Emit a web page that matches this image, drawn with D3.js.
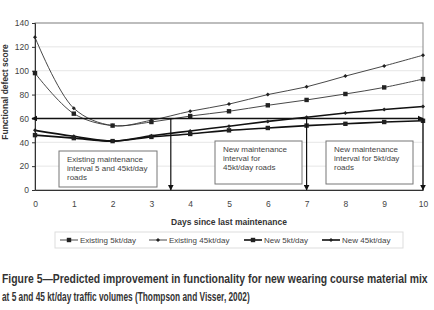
<!DOCTYPE html>
<html>
<head>
<meta charset="utf-8">
<script src="https://cdn.jsdelivr.net/npm/d3@7"></script>
<style>
  body { margin: 0; background: #fff; }
  svg { display: block; font-family: 'Liberation Sans', Arial, sans-serif; }
</style>
</head>
<body>
<div id="chart"></div>
<script>
// data
let days = [0, 1, 2, 3, 4, 5, 6, 7, 8, 9, 10]
let existing5 = [98, 64, 54, 57, 62, 66, 71, 75.5, 80.5, 86, 93]
let existing45 = [128, 68.5, 54, 58.5, 66, 72, 80, 86.5, 95.5, 104, 113]
let new5 = [46, 43.5, 41, 44.5, 47, 50, 52, 54, 55.5, 57, 58]
let new45 = [50, 45, 41, 45.5, 49.5, 53.5, 57.5, 61, 64.5, 67.5, 70]
let yTicks = [0, 20, 40, 60, 80, 100, 120, 140]
let threshold = 60
let intervals = [3.5, 7, 10]

let series = [
  { name: 'Existing 5kt/day', values: existing5, marker: 'square', thick: false },
  { name: 'Existing 45kt/day', values: existing45, marker: 'plus', thick: false },
  { name: 'New 5kt/day', values: new5, marker: 'square', thick: true },
  { name: 'New 45kt/day', values: new45, marker: 'plus', thick: true }
]

let boxes = [
  { x0: 59, y0: 151, w: 98, h: 36, lines: ['Existing maintenance', 'interval 5 and 45kt/day', 'roads'] },
  { x0: 215, y0: 141, w: 87, h: 43, lines: ['New maintenance', 'interval for', '45kt/day roads'] },
  { x0: 326, y0: 141, w: 87, h: 43, lines: ['New maintenance', 'interval for 5kt/day', 'roads'] }
]

let margin = { top: 23, left: 35, right: 11, bottom: 120 }
let width = 434
let height = 310

let svg = d3
  .select('#chart')
  .append('svg')
  .attr('width', width)
  .attr('height', height)

let xScale = d3.scaleLinear().domain([0, 10]).range([margin.left, width - margin.right])
let yScale = d3.scaleLinear().domain([0, 140]).range([height - margin.bottom, margin.top])

let ink = '#333'

// gridlines
svg
  .append('g')
  .selectAll('line')
  .data(yTicks.slice(1))
  .enter()
  .append('line')
  .attr('x1', xScale(0))
  .attr('x2', xScale(10))
  .attr('y1', d => yScale(d))
  .attr('y2', d => yScale(d))
  .attr('stroke', '#e6e6e6')
  .attr('stroke-width', 1)

// plot frame
svg
  .append('rect')
  .attr('x', xScale(0))
  .attr('y', yScale(140))
  .attr('width', xScale(10) - xScale(0))
  .attr('height', yScale(0) - yScale(140))
  .attr('fill', 'none')
  .attr('stroke', '#888')

// text boxes
let boxG = svg.append('g')
boxes.forEach(b => {
  boxG
    .append('rect')
    .attr('x', b.x0)
    .attr('y', b.y0)
    .attr('width', b.w)
    .attr('height', b.h)
    .attr('fill', '#fff')
    .attr('stroke', '#777')
  b.lines.forEach((t, i) => {
    boxG
      .append('text')
      .attr('x', b.x0 + 8)
      .attr('y', b.y0 + 11 + i * 9)
      .attr('font-size', 8)
      .attr('fill', '#444')
      .text(t)
  })
})

// axes
let yAxis = d3.axisLeft(yScale).tickValues(yTicks).tickSize(3).tickPadding(3)
let yG = svg.append('g').attr('transform', `translate(${xScale(0)},0)`).call(yAxis)
yG.select('.domain').attr('stroke', ink)
yG.selectAll('.tick line').attr('stroke', ink)
yG.selectAll('text').attr('font-size', 8.5).attr('fill', '#444').attr('font-family', 'Liberation Sans, Arial')

let xAxis = d3.axisBottom(xScale).tickValues(days).tickSize(0).tickPadding(11)
let xG = svg.append('g').attr('transform', `translate(0,${yScale(0)})`).call(xAxis)
xG.select('.domain').attr('stroke', ink)
xG.selectAll('text').attr('font-size', 8.5).attr('fill', '#444').attr('font-family', 'Liberation Sans, Arial')

// axis titles
svg
  .append('text')
  .attr('x', 229)
  .attr('y', 225)
  .attr('text-anchor', 'middle')
  .attr('font-size', 8.5)
  .attr('font-weight', 'bold')
  .attr('fill', ink)
  .text('Days since last maintenance')

svg
  .append('text')
  .attr('transform', 'translate(8,92) rotate(-90)')
  .attr('text-anchor', 'middle')
  .attr('font-size', 8.5)
  .attr('font-weight', 'bold')
  .attr('fill', ink)
  .text('Functional defect score')

// series lines
let line = d3
  .line()
  .x((d, i) => xScale(days[i]))
  .y(d => yScale(d))
  .curve(d3.curveCatmullRom)

let seriesG = svg
  .append('g')
  .selectAll('.series')
  .data(series)
  .enter()
  .append('g')
  .attr('class', 'series')

seriesG
  .append('path')
  .attr('d', d => line(d.values))
  .attr('fill', 'none')
  .attr('stroke', d => (d.thick ? '#111' : '#333'))
  .attr('stroke-width', d => (d.thick ? 1.6 : 0.9))

function drawMarker(g, type, cx, cy) {
  if (type === 'square') {
    g.append('rect')
      .attr('x', cx - 2.2)
      .attr('y', cy - 2.2)
      .attr('width', 4.4)
      .attr('height', 4.4)
      .attr('fill', '#222')
  } else {
    g.append('path')
      .attr('d', `M${cx - 2},${cy}L${cx},${cy - 2}L${cx + 2},${cy}L${cx},${cy + 2}Z`)
      .attr('fill', '#222')
  }
}

seriesG.each(function (d) {
  let g = d3.select(this)
  d.values.forEach((v, i) => drawMarker(g, d.marker, xScale(days[i]), yScale(v)))
})

// annotation arrows
let defs = svg.append('defs')
defs
  .append('marker')
  .attr('id', 'arrow')
  .attr('viewBox', '0 0 10 10')
  .attr('refX', 9)
  .attr('refY', 5)
  .attr('markerWidth', 6)
  .attr('markerHeight', 6)
  .attr('markerUnits', 'userSpaceOnUse')
  .attr('orient', 'auto-start-reverse')
  .append('path')
  .attr('d', 'M0,0L10,5L0,10Z')
  .attr('fill', '#111')

let arrowG = svg.append('g')
arrowG
  .append('line')
  .attr('x1', xScale(0) - 3)
  .attr('x2', xScale(10))
  .attr('y1', yScale(threshold))
  .attr('y2', yScale(threshold))
  .attr('stroke', '#111')
  .attr('stroke-width', 1.6)
  .attr('marker-start', 'url(#arrow)')
  .attr('marker-end', 'url(#arrow)')

arrowG
  .selectAll('.vert')
  .data(intervals)
  .enter()
  .append('line')
  .attr('class', 'vert')
  .attr('x1', d => xScale(d))
  .attr('x2', d => xScale(d))
  .attr('y1', yScale(threshold))
  .attr('y2', yScale(0))
  .attr('stroke', '#111')
  .attr('stroke-width', 1.2)
  .attr('marker-end', 'url(#arrow)')

// legend
let legend = svg.append('g')
legend
  .append('rect')
  .attr('x', 55)
  .attr('y', 232)
  .attr('width', 348)
  .attr('height', 16)
  .attr('fill', '#fff')
  .attr('stroke', '#ddd')

let legendX = [60, 149, 244, 322]
series.forEach((s, i) => {
  let lx = legendX[i]
  let ly = 240
  legend
    .append('line')
    .attr('x1', lx)
    .attr('x2', lx + 18)
    .attr('y1', ly)
    .attr('y2', ly)
    .attr('stroke', s.thick ? '#111' : '#333')
    .attr('stroke-width', s.thick ? 1.6 : 0.9)
  drawMarker(legend, s.marker, lx + 9, ly)
  legend
    .append('text')
    .attr('x', lx + 20)
    .attr('y', ly + 3)
    .attr('font-size', 8)
    .attr('fill', '#444')
    .text(s.name)
})

// caption (condensed bold): squeeze each line horizontally to its printed width
let caption = [
  'Figure 5\u2014Predicted improvement in functionality for new wearing course material mix',
  'at 5 and 45 kt/day traffic volumes (Thompson and Visser, 2002)'
]
let captionLen = [426, 248]
caption.forEach((t, i) => {
  let txt = svg
    .append('text')
    .attr('x', 0)
    .attr('y', 0)
    .attr('font-size', 12)
    .attr('font-weight', 'bold')
    .attr('fill', '#333')
    .text(t)
  let sx = captionLen[i] / txt.node().getComputedTextLength()
  txt.attr('transform', `translate(2,${283 + i * 18}) scale(${sx},1)`)
})
</script>
</body>
</html>
